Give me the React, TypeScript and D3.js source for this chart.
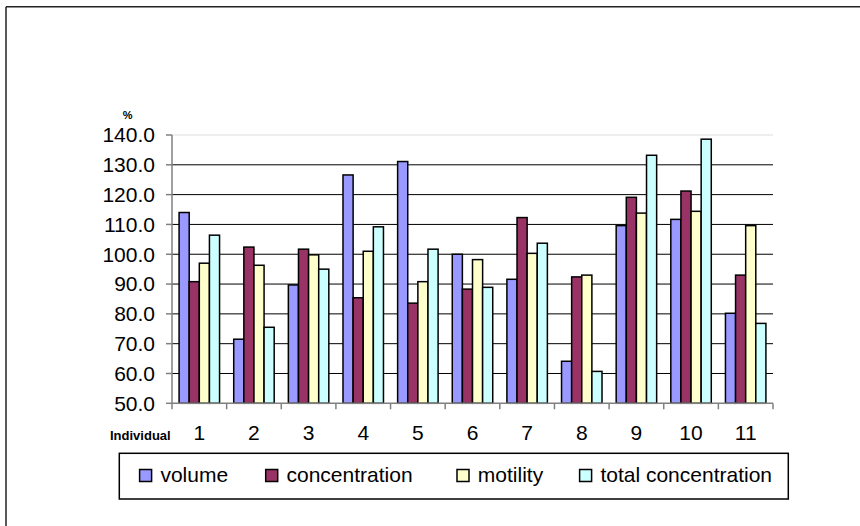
import React from "react";
import * as d3 from "d3";

const categories = ["1", "2", "3", "4", "5", "6", "7", "8", "9", "10", "11"];
const seriesNames = ["volume", "concentration", "motility", "total concentration"];
const seriesColors = ["#9999FF", "#993366", "#FFFFCC", "#CCFFFF"];

const volume = [114.0, 71.5, 89.7, 126.6, 131.1, 100.0, 91.6, 64.1, 109.6, 111.7, 80.2];
const concentration = [90.8, 102.4, 101.7, 85.4, 83.6, 88.3, 112.3, 92.4, 119.1, 121.2, 93.0];
const motility = [97.0, 96.3, 99.8, 101.0, 90.8, 98.2, 100.3, 93.0, 113.8, 114.4, 109.6];
const totalConcentration = [106.4, 75.5, 95.0, 109.2, 101.7, 88.9, 103.7, 60.7, 133.2, 138.6, 76.8];

const yTicks = [50, 60, 70, 80, 90, 100, 110, 120, 130, 140];

const W = 860;
const H = 526;
const FONT = "'Liberation Sans', Arial, Helvetica, sans-serif";

export default function App() {
  const series = [volume, concentration, motility, totalConcentration];

  const plotLeft = 172;
  const plotRight = 773;
  const plotTop = 135;
  const plotBottom = 403.3;

  const x0 = d3.scaleBand<string>().domain(categories).range([plotLeft, plotRight]).padding(0);
  const bw = x0.bandwidth();
  const gap = bw * (1.4 / 5.4);
  const x1 = d3
    .scaleBand<number>()
    .domain(d3.range(series.length))
    .range([gap / 2, bw - gap / 2])
    .padding(0);
  const y = d3.scaleLinear().domain([50, 140]).range([plotBottom, plotTop]);

  const boundaries = d3.range(categories.length + 1).map((i) => plotLeft + i * bw);

  const legendSwatchX = [139.6, 265.7, 457, 579.6];

  return (
    <svg
      width={W}
      height={H}
      style={{ position: "absolute", left: 0, top: 0, background: "#fff" }}
      fontFamily={FONT}
    >
      {/* outer chart frame */}
      <line x1={6} y1={6.7} x2={W} y2={6.7} stroke="#222" strokeWidth={1.5} />
      <line x1={6} y1={6.7} x2={6} y2={H} stroke="#222" strokeWidth={1.5} />

      {/* gridlines */}
      {yTicks
        .filter((t) => t > 50)
        .map((t) => (
          <line
            key={"g" + t}
            x1={plotLeft}
            x2={plotRight}
            y1={y(t)}
            y2={y(t)}
            stroke={t === 140 ? "#dddddd" : "#000"}
            strokeWidth={1}
          />
        ))}

      {/* bars */}
      {categories.map((c, i) => (
        <g key={"c" + c} transform={`translate(${x0(c)},0)`}>
          {series.map((s, k) => (
            <rect
              key={k}
              x={x1(k)}
              y={y(s[i])}
              width={x1.bandwidth()}
              height={plotBottom - y(s[i])}
              fill={seriesColors[k]}
              stroke="#000"
              strokeWidth={1.5}
            />
          ))}
        </g>
      ))}

      {/* y axis */}
      <line x1={plotLeft} x2={plotLeft} y1={plotTop} y2={plotBottom} stroke="#808080" strokeWidth={1.5} />
      {yTicks.map((t) => (
        <g key={"yt" + t}>
          <line x1={plotLeft - 6} x2={plotLeft} y1={y(t)} y2={y(t)} stroke="#808080" strokeWidth={1.5} />
          <text x={155} y={y(t) + 7.3} textAnchor="end" fontSize={21} fill="#000">
            {t.toFixed(1)}
          </text>
        </g>
      ))}
      <text x={127.7} y={119} textAnchor="middle" fontSize={11} fontWeight="bold" fill="#000">
        %
      </text>

      {/* x axis */}
      <line x1={plotLeft} x2={plotRight} y1={plotBottom} y2={plotBottom} stroke="#808080" strokeWidth={1.5} />
      {boundaries.map((bx, i) => (
        <line key={"xt" + i} x1={bx} x2={bx} y1={plotBottom} y2={plotBottom + 6} stroke="#808080" strokeWidth={1.5} />
      ))}
      {categories.map((c) => (
        <text key={"xl" + c} x={(x0(c) as number) + bw / 2} y={440} textAnchor="middle" fontSize={21} fill="#000">
          {c}
        </text>
      ))}
      <text x={110} y={440} fontSize={13} fontWeight="bold" fill="#000">
        Individual
      </text>

      {/* legend */}
      <rect x={119.3} y={453.3} width={669} height={45.7} fill="#fff" stroke="#000" strokeWidth={1.5} />
      {seriesNames.map((n, k) => (
        <g key={"lg" + n}>
          <rect
            x={legendSwatchX[k]}
            y={469.5}
            width={12}
            height={12}
            fill={seriesColors[k]}
            stroke="#000"
            strokeWidth={1.5}
          />
          <text x={legendSwatchX[k] + 20.8} y={482} fontSize={21} fill="#000">
            {n}
          </text>
        </g>
      ))}
    </svg>
  );
}
